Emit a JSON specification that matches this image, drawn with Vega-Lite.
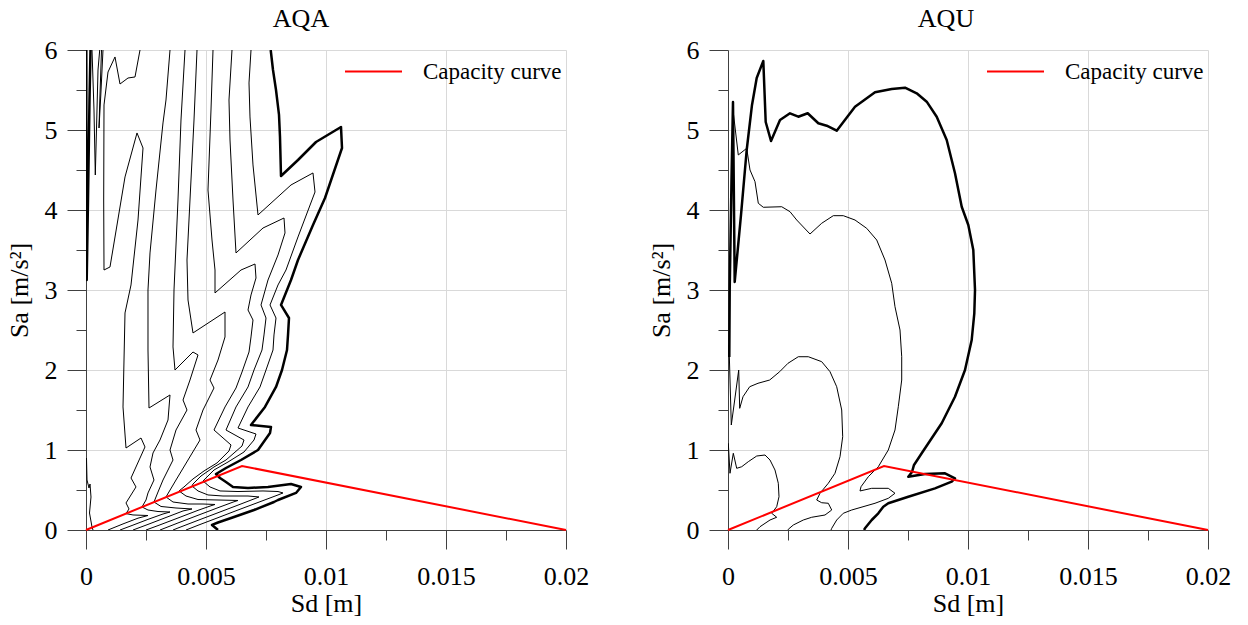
{
"$schema": "https://vega.github.io/schema/vega-lite/v6.json",
"background": "white",
"padding": {"left": 6, "top": 6, "right": 5, "bottom": 5},
"config": {
  "font": "Liberation Serif",
  "view": {"stroke": null},
  "axis": {"labelFont": "Liberation Serif", "titleFont": "Liberation Serif", "labelFontSize": 26, "titleFontSize": 26, "labelColor": "#000", "titleColor": "#000", "titleFontWeight": "normal", "domainColor": "#404040", "tickColor": "#404040", "gridColor": "#d9d9d9", "gridWidth": 1, "labelFlush": false, "labelOverlap": false},
  "title": {"font": "Liberation Serif", "fontSize": 26, "fontWeight": "normal", "color": "#000"},
  "legend": {"labelFont": "Liberation Serif", "labelFontSize": 23, "labelColor": "#000"}
},
"datasets": {
"capacity": [
{"i":1,"sd":0,"sa":0,"series":"Capacity curve"},
{"i":2,"sd":0.0065,"sa":0.8,"series":"Capacity curve"},
{"i":3,"sd":0.02,"sa":0,"series":"Capacity curve"}
],
"contours": [
{"panel":"AQA","line":"C1","contour":"outer","i":1,"sd":0.007696,"sa":6},
{"panel":"AQA","line":"C1","contour":"outer","i":2,"sd":0.007792,"sa":5.75},
{"panel":"AQA","line":"C1","contour":"outer","i":3,"sd":0.007917,"sa":5.5},
{"panel":"AQA","line":"C1","contour":"outer","i":4,"sd":0.008042,"sa":5.188},
{"panel":"AQA","line":"C1","contour":"outer","i":5,"sd":0.008083,"sa":4.913},
{"panel":"AQA","line":"C1","contour":"outer","i":6,"sd":0.008125,"sa":4.425},
{"panel":"AQA","line":"C1","contour":"outer","i":7,"sd":0.008833,"sa":4.625},
{"panel":"AQA","line":"C1","contour":"outer","i":8,"sd":0.009583,"sa":4.85},
{"panel":"AQA","line":"C1","contour":"outer","i":9,"sd":0.010625,"sa":5.038},
{"panel":"AQA","line":"C1","contour":"outer","i":10,"sd":0.010667,"sa":4.775},
{"panel":"AQA","line":"C1","contour":"outer","i":11,"sd":0.009958,"sa":4.15},
{"panel":"AQA","line":"C1","contour":"outer","i":12,"sd":0.009458,"sa":3.813},
{"panel":"AQA","line":"C1","contour":"outer","i":13,"sd":0.008833,"sa":3.375},
{"panel":"AQA","line":"C1","contour":"outer","i":14,"sd":0.008542,"sa":3.125},
{"panel":"AQA","line":"C1","contour":"outer","i":15,"sd":0.008125,"sa":2.813},
{"panel":"AQA","line":"C1","contour":"outer","i":16,"sd":0.008458,"sa":2.65},
{"panel":"AQA","line":"C1","contour":"outer","i":17,"sd":0.008417,"sa":2.438},
{"panel":"AQA","line":"C1","contour":"outer","i":18,"sd":0.008375,"sa":2.25},
{"panel":"AQA","line":"C1","contour":"outer","i":19,"sd":0.008167,"sa":2.0},
{"panel":"AQA","line":"C1","contour":"outer","i":20,"sd":0.007917,"sa":1.788},
{"panel":"AQA","line":"C1","contour":"outer","i":21,"sd":0.007458,"sa":1.538},
{"panel":"AQA","line":"C1","contour":"outer","i":22,"sd":0.006875,"sa":1.313},
{"panel":"AQA","line":"C1","contour":"outer","i":23,"sd":0.007708,"sa":1.288},
{"panel":"AQA","line":"C1","contour":"outer","i":24,"sd":0.007667,"sa":1.213},
{"panel":"AQA","line":"C1","contour":"outer","i":25,"sd":0.007167,"sa":1.0},
{"panel":"AQA","line":"C1","contour":"outer","i":26,"sd":0.006458,"sa":0.875},
{"panel":"AQA","line":"C1","contour":"outer","i":27,"sd":0.005833,"sa":0.775},
{"panel":"AQA","line":"C1","contour":"outer","i":28,"sd":0.005417,"sa":0.7},
{"panel":"AQA","line":"C1","contour":"outer","i":29,"sd":0.005583,"sa":0.65},
{"panel":"AQA","line":"C1","contour":"outer","i":30,"sd":0.005833,"sa":0.6},
{"panel":"AQA","line":"C1","contour":"outer","i":31,"sd":0.006125,"sa":0.538},
{"panel":"AQA","line":"C1","contour":"outer","i":32,"sd":0.00675,"sa":0.525},
{"panel":"AQA","line":"C1","contour":"outer","i":33,"sd":0.007583,"sa":0.538},
{"panel":"AQA","line":"C1","contour":"outer","i":34,"sd":0.008542,"sa":0.575},
{"panel":"AQA","line":"C1","contour":"outer","i":35,"sd":0.008958,"sa":0.538},
{"panel":"AQA","line":"C1","contour":"outer","i":36,"sd":0.00875,"sa":0.463},
{"panel":"AQA","line":"C1","contour":"outer","i":37,"sd":0.008,"sa":0.375},
{"panel":"AQA","line":"C1","contour":"outer","i":38,"sd":0.007833,"sa":0.35},
{"panel":"AQA","line":"C1","contour":"outer","i":39,"sd":0.007,"sa":0.25},
{"panel":"AQA","line":"C1","contour":"outer","i":40,"sd":0.006167,"sa":0.163},
{"panel":"AQA","line":"C1","contour":"outer","i":41,"sd":0.0055,"sa":0.094},
{"panel":"AQA","line":"C1","contour":"outer","i":42,"sd":0.00525,"sa":0.063},
{"panel":"AQA","line":"C1","contour":"outer","i":43,"sd":0.0055,"sa":0},
{"panel":"AQA","line":"K0","contour":"outer","i":1,"sd":0.0000125,"sa":6},
{"panel":"AQA","line":"K0","contour":"outer","i":2,"sd":0.0000167,"sa":4.75},
{"panel":"AQA","line":"K0","contour":"outer","i":3,"sd":0.000029,"sa":3.125},
{"panel":"AQA","line":"K0","contour":"outer","i":4,"sd":0.000083,"sa":4.125},
{"panel":"AQA","line":"K0","contour":"outer","i":5,"sd":0.000146,"sa":5.375},
{"panel":"AQA","line":"K0","contour":"outer","i":6,"sd":0.0001875,"sa":6},
{"panel":"AQA","line":"S2","contour":"inner","i":1,"sd":0.00025,"sa":6},
{"panel":"AQA","line":"S2","contour":"inner","i":2,"sd":0.000333,"sa":5.25},
{"panel":"AQA","line":"S2","contour":"inner","i":3,"sd":0.0003875,"sa":4.4375},
{"panel":"AQA","line":"S2","contour":"inner","i":4,"sd":0.000458,"sa":5.25},
{"panel":"AQA","line":"S2","contour":"inner","i":5,"sd":0.0005,"sa":5.75},
{"panel":"AQA","line":"S2","contour":"inner","i":6,"sd":0.000571,"sa":6},
{"panel":"AQA","line":"S3","contour":"inner","i":1,"sd":0.000646,"sa":6},
{"panel":"AQA","line":"S3","contour":"inner","i":2,"sd":0.000575,"sa":5.375},
{"panel":"AQA","line":"S3","contour":"inner","i":3,"sd":0.000542,"sa":5.025},
{"panel":"AQA","line":"S3","contour":"inner","i":4,"sd":0.000617,"sa":5.4375},
{"panel":"AQA","line":"S3","contour":"inner","i":5,"sd":0.000708,"sa":6},
{"panel":"AQA","line":"W","contour":"inner","i":1,"sd":0.0000208,"sa":0.9},
{"panel":"AQA","line":"W","contour":"inner","i":2,"sd":0.000042,"sa":0.625},
{"panel":"AQA","line":"W","contour":"inner","i":3,"sd":0.000125,"sa":0.525},
{"panel":"AQA","line":"W","contour":"inner","i":4,"sd":0.000167,"sa":0.575},
{"panel":"AQA","line":"W","contour":"inner","i":5,"sd":0.000208,"sa":0.4125},
{"panel":"AQA","line":"W","contour":"inner","i":6,"sd":0.000146,"sa":0.2125},
{"panel":"AQA","line":"W","contour":"inner","i":7,"sd":0.00025,"sa":0.0375},
{"panel":"AQA","line":"W","contour":"inner","i":8,"sd":0.000292,"sa":0},
{"panel":"AQA","line":"C2","contour":"inner","i":1,"sd":0.006875,"sa":6},
{"panel":"AQA","line":"C2","contour":"inner","i":2,"sd":0.006792,"sa":5.588},
{"panel":"AQA","line":"C2","contour":"inner","i":3,"sd":0.006833,"sa":5.163},
{"panel":"AQA","line":"C2","contour":"inner","i":4,"sd":0.006958,"sa":4.563},
{"panel":"AQA","line":"C2","contour":"inner","i":5,"sd":0.007167,"sa":3.938},
{"panel":"AQA","line":"C2","contour":"inner","i":6,"sd":0.008542,"sa":4.313},
{"panel":"AQA","line":"C2","contour":"inner","i":7,"sd":0.009458,"sa":4.463},
{"panel":"AQA","line":"C2","contour":"inner","i":8,"sd":0.009542,"sa":4.225},
{"panel":"AQA","line":"C2","contour":"inner","i":9,"sd":0.008833,"sa":3.663},
{"panel":"AQA","line":"C2","contour":"inner","i":10,"sd":0.008333,"sa":3.25},
{"panel":"AQA","line":"C2","contour":"inner","i":11,"sd":0.008,"sa":3.063},
{"panel":"AQA","line":"C2","contour":"inner","i":12,"sd":0.007667,"sa":2.813},
{"panel":"AQA","line":"C2","contour":"inner","i":13,"sd":0.007917,"sa":2.65},
{"panel":"AQA","line":"C2","contour":"inner","i":14,"sd":0.007833,"sa":2.438},
{"panel":"AQA","line":"C2","contour":"inner","i":15,"sd":0.007792,"sa":2.25},
{"panel":"AQA","line":"C2","contour":"inner","i":16,"sd":0.0075,"sa":2.0},
{"panel":"AQA","line":"C2","contour":"inner","i":17,"sd":0.00725,"sa":1.788},
{"panel":"AQA","line":"C2","contour":"inner","i":18,"sd":0.00675,"sa":1.538},
{"panel":"AQA","line":"C2","contour":"inner","i":19,"sd":0.006333,"sa":1.275},
{"panel":"AQA","line":"C2","contour":"inner","i":20,"sd":0.007083,"sa":1.2},
{"panel":"AQA","line":"C2","contour":"inner","i":21,"sd":0.007,"sa":1.125},
{"panel":"AQA","line":"C2","contour":"inner","i":22,"sd":0.006583,"sa":0.975},
{"panel":"AQA","line":"C2","contour":"inner","i":23,"sd":0.005917,"sa":0.85},
{"panel":"AQA","line":"C2","contour":"inner","i":24,"sd":0.005333,"sa":0.75},
{"panel":"AQA","line":"C2","contour":"inner","i":25,"sd":0.004875,"sa":0.613},
{"panel":"AQA","line":"C2","contour":"inner","i":26,"sd":0.005167,"sa":0.538},
{"panel":"AQA","line":"C2","contour":"inner","i":27,"sd":0.005583,"sa":0.488},
{"panel":"AQA","line":"C2","contour":"inner","i":28,"sd":0.006333,"sa":0.481},
{"panel":"AQA","line":"C2","contour":"inner","i":29,"sd":0.007375,"sa":0.488},
{"panel":"AQA","line":"C2","contour":"inner","i":30,"sd":0.008,"sa":0.481},
{"panel":"AQA","line":"C2","contour":"inner","i":31,"sd":0.008208,"sa":0.463},
{"panel":"AQA","line":"C2","contour":"inner","i":32,"sd":0.008,"sa":0.438},
{"panel":"AQA","line":"C2","contour":"inner","i":33,"sd":0.007167,"sa":0.344},
{"panel":"AQA","line":"C2","contour":"inner","i":34,"sd":0.006333,"sa":0.25},
{"panel":"AQA","line":"C2","contour":"inner","i":35,"sd":0.0055,"sa":0.154},
{"panel":"AQA","line":"C2","contour":"inner","i":36,"sd":0.004667,"sa":0.059},
{"panel":"AQA","line":"C2","contour":"inner","i":37,"sd":0.004167,"sa":0},
{"panel":"AQA","line":"C3","contour":"inner","i":1,"sd":0.006083,"sa":6},
{"panel":"AQA","line":"C3","contour":"inner","i":2,"sd":0.005958,"sa":5.375},
{"panel":"AQA","line":"C3","contour":"inner","i":3,"sd":0.006,"sa":4.875},
{"panel":"AQA","line":"C3","contour":"inner","i":4,"sd":0.006125,"sa":4.125},
{"panel":"AQA","line":"C3","contour":"inner","i":5,"sd":0.00625,"sa":3.463},
{"panel":"AQA","line":"C3","contour":"inner","i":6,"sd":0.007375,"sa":3.775},
{"panel":"AQA","line":"C3","contour":"inner","i":7,"sd":0.00825,"sa":3.9},
{"panel":"AQA","line":"C3","contour":"inner","i":8,"sd":0.008292,"sa":3.713},
{"panel":"AQA","line":"C3","contour":"inner","i":9,"sd":0.008,"sa":3.438},
{"panel":"AQA","line":"C3","contour":"inner","i":10,"sd":0.007583,"sa":3.125},
{"panel":"AQA","line":"C3","contour":"inner","i":11,"sd":0.007292,"sa":2.813},
{"panel":"AQA","line":"C3","contour":"inner","i":12,"sd":0.0075,"sa":2.65},
{"panel":"AQA","line":"C3","contour":"inner","i":13,"sd":0.007417,"sa":2.438},
{"panel":"AQA","line":"C3","contour":"inner","i":14,"sd":0.007333,"sa":2.25},
{"panel":"AQA","line":"C3","contour":"inner","i":15,"sd":0.007,"sa":2.0},
{"panel":"AQA","line":"C3","contour":"inner","i":16,"sd":0.00675,"sa":1.788},
{"panel":"AQA","line":"C3","contour":"inner","i":17,"sd":0.00625,"sa":1.538},
{"panel":"AQA","line":"C3","contour":"inner","i":18,"sd":0.005833,"sa":1.25},
{"panel":"AQA","line":"C3","contour":"inner","i":19,"sd":0.006583,"sa":1.125},
{"panel":"AQA","line":"C3","contour":"inner","i":20,"sd":0.0065,"sa":1.05},
{"panel":"AQA","line":"C3","contour":"inner","i":21,"sd":0.005833,"sa":0.875},
{"panel":"AQA","line":"C3","contour":"inner","i":22,"sd":0.005333,"sa":0.788},
{"panel":"AQA","line":"C3","contour":"inner","i":23,"sd":0.004792,"sa":0.675},
{"panel":"AQA","line":"C3","contour":"inner","i":24,"sd":0.004458,"sa":0.575},
{"panel":"AQA","line":"C3","contour":"inner","i":25,"sd":0.004417,"sa":0.55},
{"panel":"AQA","line":"C3","contour":"inner","i":26,"sd":0.004667,"sa":0.488},
{"panel":"AQA","line":"C3","contour":"inner","i":27,"sd":0.005083,"sa":0.438},
{"panel":"AQA","line":"C3","contour":"inner","i":28,"sd":0.005708,"sa":0.425},
{"panel":"AQA","line":"C3","contour":"inner","i":29,"sd":0.00675,"sa":0.425},
{"panel":"AQA","line":"C3","contour":"inner","i":30,"sd":0.007208,"sa":0.413},
{"panel":"AQA","line":"C3","contour":"inner","i":31,"sd":0.007083,"sa":0.398},
{"panel":"AQA","line":"C3","contour":"inner","i":32,"sd":0.006333,"sa":0.311},
{"panel":"AQA","line":"C3","contour":"inner","i":33,"sd":0.0055,"sa":0.216},
{"panel":"AQA","line":"C3","contour":"inner","i":34,"sd":0.004667,"sa":0.121},
{"panel":"AQA","line":"C3","contour":"inner","i":35,"sd":0.003833,"sa":0.025},
{"panel":"AQA","line":"C3","contour":"inner","i":36,"sd":0.003625,"sa":0},
{"panel":"AQA","line":"C4","contour":"inner","i":1,"sd":0.005292,"sa":6},
{"panel":"AQA","line":"C4","contour":"inner","i":2,"sd":0.005208,"sa":5.25},
{"panel":"AQA","line":"C4","contour":"inner","i":3,"sd":0.005083,"sa":4.25},
{"panel":"AQA","line":"C4","contour":"inner","i":4,"sd":0.00525,"sa":3.625},
{"panel":"AQA","line":"C4","contour":"inner","i":5,"sd":0.005375,"sa":3.25},
{"panel":"AQA","line":"C4","contour":"inner","i":6,"sd":0.005375,"sa":2.963},
{"panel":"AQA","line":"C4","contour":"inner","i":7,"sd":0.006458,"sa":3.25},
{"panel":"AQA","line":"C4","contour":"inner","i":8,"sd":0.007042,"sa":3.325},
{"panel":"AQA","line":"C4","contour":"inner","i":9,"sd":0.007083,"sa":3.15},
{"panel":"AQA","line":"C4","contour":"inner","i":10,"sd":0.006875,"sa":2.938},
{"panel":"AQA","line":"C4","contour":"inner","i":11,"sd":0.00675,"sa":2.75},
{"panel":"AQA","line":"C4","contour":"inner","i":12,"sd":0.006958,"sa":2.625},
{"panel":"AQA","line":"C4","contour":"inner","i":13,"sd":0.006875,"sa":2.413},
{"panel":"AQA","line":"C4","contour":"inner","i":14,"sd":0.006792,"sa":2.225},
{"panel":"AQA","line":"C4","contour":"inner","i":15,"sd":0.0065,"sa":1.975},
{"panel":"AQA","line":"C4","contour":"inner","i":16,"sd":0.00625,"sa":1.775},
{"panel":"AQA","line":"C4","contour":"inner","i":17,"sd":0.005792,"sa":1.538},
{"panel":"AQA","line":"C4","contour":"inner","i":18,"sd":0.005333,"sa":1.25},
{"panel":"AQA","line":"C4","contour":"inner","i":19,"sd":0.006042,"sa":1.063},
{"panel":"AQA","line":"C4","contour":"inner","i":20,"sd":0.005958,"sa":0.988},
{"panel":"AQA","line":"C4","contour":"inner","i":21,"sd":0.005458,"sa":0.838},
{"panel":"AQA","line":"C4","contour":"inner","i":22,"sd":0.004917,"sa":0.738},
{"panel":"AQA","line":"C4","contour":"inner","i":23,"sd":0.004458,"sa":0.638},
{"panel":"AQA","line":"C4","contour":"inner","i":24,"sd":0.004083,"sa":0.538},
{"panel":"AQA","line":"C4","contour":"inner","i":25,"sd":0.003875,"sa":0.488},
{"panel":"AQA","line":"C4","contour":"inner","i":26,"sd":0.004167,"sa":0.425},
{"panel":"AQA","line":"C4","contour":"inner","i":27,"sd":0.004667,"sa":0.381},
{"panel":"AQA","line":"C4","contour":"inner","i":28,"sd":0.0055,"sa":0.375},
{"panel":"AQA","line":"C4","contour":"inner","i":29,"sd":0.006333,"sa":0.369},
{"panel":"AQA","line":"C4","contour":"inner","i":30,"sd":0.006167,"sa":0.353},
{"panel":"AQA","line":"C4","contour":"inner","i":31,"sd":0.0055,"sa":0.279},
{"panel":"AQA","line":"C4","contour":"inner","i":32,"sd":0.004667,"sa":0.184},
{"panel":"AQA","line":"C4","contour":"inner","i":33,"sd":0.003833,"sa":0.088},
{"panel":"AQA","line":"C4","contour":"inner","i":34,"sd":0.003083,"sa":0},
{"panel":"AQA","line":"C5","contour":"inner","i":1,"sd":0.004625,"sa":6},
{"panel":"AQA","line":"C5","contour":"inner","i":2,"sd":0.0045,"sa":5.125},
{"panel":"AQA","line":"C5","contour":"inner","i":3,"sd":0.004333,"sa":4.125},
{"panel":"AQA","line":"C5","contour":"inner","i":4,"sd":0.004208,"sa":3.375},
{"panel":"AQA","line":"C5","contour":"inner","i":5,"sd":0.00425,"sa":2.875},
{"panel":"AQA","line":"C5","contour":"inner","i":6,"sd":0.004458,"sa":2.463},
{"panel":"AQA","line":"C5","contour":"inner","i":7,"sd":0.005792,"sa":2.725},
{"panel":"AQA","line":"C5","contour":"inner","i":8,"sd":0.005792,"sa":2.413},
{"panel":"AQA","line":"C5","contour":"inner","i":9,"sd":0.0055,"sa":2.125},
{"panel":"AQA","line":"C5","contour":"inner","i":10,"sd":0.005167,"sa":1.875},
{"panel":"AQA","line":"C5","contour":"inner","i":11,"sd":0.005333,"sa":1.775},
{"panel":"AQA","line":"C5","contour":"inner","i":12,"sd":0.004875,"sa":1.5},
{"panel":"AQA","line":"C5","contour":"inner","i":13,"sd":0.004583,"sa":1.25},
{"panel":"AQA","line":"C5","contour":"inner","i":14,"sd":0.00475,"sa":1.125},
{"panel":"AQA","line":"C5","contour":"inner","i":15,"sd":0.00425,"sa":0.875},
{"panel":"AQA","line":"C5","contour":"inner","i":16,"sd":0.00375,"sa":0.625},
{"panel":"AQA","line":"C5","contour":"inner","i":17,"sd":0.003333,"sa":0.413},
{"panel":"AQA","line":"C5","contour":"inner","i":18,"sd":0.003625,"sa":0.35},
{"panel":"AQA","line":"C5","contour":"inner","i":19,"sd":0.00425,"sa":0.325},
{"panel":"AQA","line":"C5","contour":"inner","i":20,"sd":0.004875,"sa":0.325},
{"panel":"AQA","line":"C5","contour":"inner","i":21,"sd":0.005375,"sa":0.319},
{"panel":"AQA","line":"C5","contour":"inner","i":22,"sd":0.005208,"sa":0.303},
{"panel":"AQA","line":"C5","contour":"inner","i":23,"sd":0.004667,"sa":0.246},
{"panel":"AQA","line":"C5","contour":"inner","i":24,"sd":0.003833,"sa":0.15},
{"panel":"AQA","line":"C5","contour":"inner","i":25,"sd":0.003,"sa":0.055},
{"panel":"AQA","line":"C5","contour":"inner","i":26,"sd":0.0025,"sa":0},
{"panel":"AQA","line":"C6","contour":"inner","i":1,"sd":0.004125,"sa":6},
{"panel":"AQA","line":"C6","contour":"inner","i":2,"sd":0.003958,"sa":5.125},
{"panel":"AQA","line":"C6","contour":"inner","i":3,"sd":0.003833,"sa":4.125},
{"panel":"AQA","line":"C6","contour":"inner","i":4,"sd":0.003667,"sa":3.0},
{"panel":"AQA","line":"C6","contour":"inner","i":5,"sd":0.003625,"sa":2.288},
{"panel":"AQA","line":"C6","contour":"inner","i":6,"sd":0.003708,"sa":2.0},
{"panel":"AQA","line":"C6","contour":"inner","i":7,"sd":0.004458,"sa":2.225},
{"panel":"AQA","line":"C6","contour":"inner","i":8,"sd":0.004667,"sa":2.188},
{"panel":"AQA","line":"C6","contour":"inner","i":9,"sd":0.004333,"sa":1.875},
{"panel":"AQA","line":"C6","contour":"inner","i":10,"sd":0.004042,"sa":1.625},
{"panel":"AQA","line":"C6","contour":"inner","i":11,"sd":0.004208,"sa":1.5},
{"panel":"AQA","line":"C6","contour":"inner","i":12,"sd":0.00375,"sa":1.25},
{"panel":"AQA","line":"C6","contour":"inner","i":13,"sd":0.0035,"sa":1.0},
{"panel":"AQA","line":"C6","contour":"inner","i":14,"sd":0.003625,"sa":0.875},
{"panel":"AQA","line":"C6","contour":"inner","i":15,"sd":0.003208,"sa":0.625},
{"panel":"AQA","line":"C6","contour":"inner","i":16,"sd":0.003,"sa":0.475},
{"panel":"AQA","line":"C6","contour":"inner","i":17,"sd":0.002833,"sa":0.35},
{"panel":"AQA","line":"C6","contour":"inner","i":18,"sd":0.003125,"sa":0.294},
{"panel":"AQA","line":"C6","contour":"inner","i":19,"sd":0.00375,"sa":0.275},
{"panel":"AQA","line":"C6","contour":"inner","i":20,"sd":0.004417,"sa":0.263},
{"panel":"AQA","line":"C6","contour":"inner","i":21,"sd":0.004042,"sa":0.238},
{"panel":"AQA","line":"C6","contour":"inner","i":22,"sd":0.003417,"sa":0.166},
{"panel":"AQA","line":"C6","contour":"inner","i":23,"sd":0.002583,"sa":0.07},
{"panel":"AQA","line":"C6","contour":"inner","i":24,"sd":0.001958,"sa":0},
{"panel":"AQA","line":"C7","contour":"inner","i":1,"sd":0.0035,"sa":6},
{"panel":"AQA","line":"C7","contour":"inner","i":2,"sd":0.003333,"sa":5.375},
{"panel":"AQA","line":"C7","contour":"inner","i":3,"sd":0.003208,"sa":5.088},
{"panel":"AQA","line":"C7","contour":"inner","i":4,"sd":0.002917,"sa":4.25},
{"panel":"AQA","line":"C7","contour":"inner","i":5,"sd":0.002667,"sa":3.463},
{"panel":"AQA","line":"C7","contour":"inner","i":6,"sd":0.002583,"sa":3.0},
{"panel":"AQA","line":"C7","contour":"inner","i":7,"sd":0.002583,"sa":2.25},
{"panel":"AQA","line":"C7","contour":"inner","i":8,"sd":0.002625,"sa":1.525},
{"panel":"AQA","line":"C7","contour":"inner","i":9,"sd":0.0035,"sa":1.688},
{"panel":"AQA","line":"C7","contour":"inner","i":10,"sd":0.003417,"sa":1.375},
{"panel":"AQA","line":"C7","contour":"inner","i":11,"sd":0.003083,"sa":1.125},
{"panel":"AQA","line":"C7","contour":"inner","i":12,"sd":0.002792,"sa":0.963},
{"panel":"AQA","line":"C7","contour":"inner","i":13,"sd":0.002667,"sa":0.788},
{"panel":"AQA","line":"C7","contour":"inner","i":14,"sd":0.002833,"sa":0.625},
{"panel":"AQA","line":"C7","contour":"inner","i":15,"sd":0.002583,"sa":0.463},
{"panel":"AQA","line":"C7","contour":"inner","i":16,"sd":0.0025,"sa":0.375},
{"panel":"AQA","line":"C7","contour":"inner","i":17,"sd":0.002333,"sa":0.288},
{"panel":"AQA","line":"C7","contour":"inner","i":18,"sd":0.002583,"sa":0.25},
{"panel":"AQA","line":"C7","contour":"inner","i":19,"sd":0.003,"sa":0.231},
{"panel":"AQA","line":"C7","contour":"inner","i":20,"sd":0.0035,"sa":0.225},
{"panel":"AQA","line":"C7","contour":"inner","i":21,"sd":0.003208,"sa":0.2},
{"panel":"AQA","line":"C7","contour":"inner","i":22,"sd":0.002583,"sa":0.133},
{"panel":"AQA","line":"C7","contour":"inner","i":23,"sd":0.001958,"sa":0.061},
{"panel":"AQA","line":"C7","contour":"inner","i":24,"sd":0.001417,"sa":0},
{"panel":"AQA","line":"T","contour":"inner","i":1,"sd":0.00225,"sa":6},
{"panel":"AQA","line":"T","contour":"inner","i":2,"sd":0.002042,"sa":5.663},
{"panel":"AQA","line":"T","contour":"inner","i":3,"sd":0.00175,"sa":5.65},
{"panel":"AQA","line":"T","contour":"inner","i":4,"sd":0.001417,"sa":5.575},
{"panel":"AQA","line":"T","contour":"inner","i":5,"sd":0.001208,"sa":5.913},
{"panel":"AQA","line":"T","contour":"inner","i":6,"sd":0.000917,"sa":5.725},
{"panel":"AQA","line":"T","contour":"inner","i":7,"sd":0.00075,"sa":5.313},
{"panel":"AQA","line":"T","contour":"inner","i":8,"sd":0.0007375,"sa":4.125},
{"panel":"AQA","line":"T","contour":"inner","i":9,"sd":0.00075,"sa":3.25},
{"panel":"AQA","line":"T","contour":"inner","i":10,"sd":0.001,"sa":3.288},
{"panel":"AQA","line":"T","contour":"inner","i":11,"sd":0.001625,"sa":4.413},
{"panel":"AQA","line":"T","contour":"inner","i":12,"sd":0.002125,"sa":4.963},
{"panel":"AQA","line":"T","contour":"inner","i":13,"sd":0.002375,"sa":4.775},
{"panel":"AQA","line":"T","contour":"inner","i":14,"sd":0.002167,"sa":3.875},
{"panel":"AQA","line":"T","contour":"inner","i":15,"sd":0.001875,"sa":3.063},
{"panel":"AQA","line":"T","contour":"inner","i":16,"sd":0.001625,"sa":2.713},
{"panel":"AQA","line":"T","contour":"inner","i":17,"sd":0.001542,"sa":1.538},
{"panel":"AQA","line":"T","contour":"inner","i":18,"sd":0.001667,"sa":1.025},
{"panel":"AQA","line":"T","contour":"inner","i":19,"sd":0.002292,"sa":1.15},
{"panel":"AQA","line":"T","contour":"inner","i":20,"sd":0.002458,"sa":1.038},
{"panel":"AQA","line":"T","contour":"inner","i":21,"sd":0.001875,"sa":0.65},
{"panel":"AQA","line":"T","contour":"inner","i":22,"sd":0.002083,"sa":0.538},
{"panel":"AQA","line":"T","contour":"inner","i":23,"sd":0.001667,"sa":0.338},
{"panel":"AQA","line":"T","contour":"inner","i":24,"sd":0.001792,"sa":0.263},
{"panel":"AQA","line":"T","contour":"inner","i":25,"sd":0.001667,"sa":0.205},
{"panel":"AQA","line":"T","contour":"inner","i":26,"sd":0.001958,"sa":0.188},
{"panel":"AQA","line":"T","contour":"inner","i":27,"sd":0.002583,"sa":0.181},
{"panel":"AQA","line":"T","contour":"inner","i":28,"sd":0.002167,"sa":0.148},
{"panel":"AQA","line":"T","contour":"inner","i":29,"sd":0.001542,"sa":0.076},
{"panel":"AQA","line":"T","contour":"inner","i":30,"sd":0.000917,"sa":0},
{"panel":"AQU","line":"U1","contour":"outer","i":1,"sd":0.000054,"sa":2.163},
{"panel":"AQU","line":"U1","contour":"outer","i":2,"sd":0.000071,"sa":3.0},
{"panel":"AQU","line":"U1","contour":"outer","i":3,"sd":0.000146,"sa":4.375},
{"panel":"AQU","line":"U1","contour":"outer","i":4,"sd":0.000208,"sa":5.35},
{"panel":"AQU","line":"U1","contour":"outer","i":5,"sd":0.000279,"sa":3.1},
{"panel":"AQU","line":"U1","contour":"outer","i":6,"sd":0.000542,"sa":3.938},
{"panel":"AQU","line":"U1","contour":"outer","i":7,"sd":0.000779,"sa":4.75},
{"panel":"AQU","line":"U1","contour":"outer","i":8,"sd":0.001,"sa":5.313},
{"panel":"AQU","line":"U1","contour":"outer","i":9,"sd":0.001196,"sa":5.65},
{"panel":"AQU","line":"U1","contour":"outer","i":10,"sd":0.001471,"sa":5.863},
{"panel":"AQU","line":"U1","contour":"outer","i":11,"sd":0.001571,"sa":5.1},
{"panel":"AQU","line":"U1","contour":"outer","i":12,"sd":0.001792,"sa":4.863},
{"panel":"AQU","line":"U1","contour":"outer","i":13,"sd":0.002167,"sa":5.125},
{"panel":"AQU","line":"U1","contour":"outer","i":14,"sd":0.002583,"sa":5.209},
{"panel":"AQU","line":"U1","contour":"outer","i":15,"sd":0.002929,"sa":5.166},
{"panel":"AQU","line":"U1","contour":"outer","i":16,"sd":0.003321,"sa":5.209},
{"panel":"AQU","line":"U1","contour":"outer","i":17,"sd":0.003763,"sa":5.084},
{"panel":"AQU","line":"U1","contour":"outer","i":18,"sd":0.004113,"sa":5.054},
{"panel":"AQU","line":"U1","contour":"outer","i":19,"sd":0.004529,"sa":4.991},
{"panel":"AQU","line":"U1","contour":"outer","i":20,"sd":0.005292,"sa":5.291},
{"panel":"AQU","line":"U1","contour":"outer","i":21,"sd":0.006125,"sa":5.471},
{"panel":"AQU","line":"U1","contour":"outer","i":22,"sd":0.006821,"sa":5.513},
{"panel":"AQU","line":"U1","contour":"outer","i":23,"sd":0.007375,"sa":5.529},
{"panel":"AQU","line":"U1","contour":"outer","i":24,"sd":0.007863,"sa":5.459},
{"panel":"AQU","line":"U1","contour":"outer","i":25,"sd":0.008279,"sa":5.354},
{"panel":"AQU","line":"U1","contour":"outer","i":26,"sd":0.008696,"sa":5.166},
{"panel":"AQU","line":"U1","contour":"outer","i":27,"sd":0.009113,"sa":4.875},
{"panel":"AQU","line":"U1","contour":"outer","i":28,"sd":0.009458,"sa":4.459},
{"panel":"AQU","line":"U1","contour":"outer","i":29,"sd":0.009738,"sa":4.041},
{"panel":"AQU","line":"U1","contour":"outer","i":30,"sd":0.010013,"sa":3.813},
{"panel":"AQU","line":"U1","contour":"outer","i":31,"sd":0.010221,"sa":3.5},
{"panel":"AQU","line":"U1","contour":"outer","i":32,"sd":0.010292,"sa":3.0},
{"panel":"AQU","line":"U1","contour":"outer","i":33,"sd":0.010263,"sa":2.709},
{"panel":"AQU","line":"U1","contour":"outer","i":34,"sd":0.010154,"sa":2.375},
{"panel":"AQU","line":"U1","contour":"outer","i":35,"sd":0.009875,"sa":2.0},
{"panel":"AQU","line":"U1","contour":"outer","i":36,"sd":0.009458,"sa":1.666},
{"panel":"AQU","line":"U1","contour":"outer","i":37,"sd":0.008904,"sa":1.334},
{"panel":"AQU","line":"U1","contour":"outer","i":38,"sd":0.008071,"sa":0.959},
{"panel":"AQU","line":"U1","contour":"outer","i":39,"sd":0.00775,"sa":0.813},
{"panel":"AQU","line":"U1","contour":"outer","i":40,"sd":0.007667,"sa":0.725},
{"panel":"AQU","line":"U1","contour":"outer","i":41,"sd":0.007513,"sa":0.666},
{"panel":"AQU","line":"U1","contour":"outer","i":42,"sd":0.008208,"sa":0.7},
{"panel":"AQU","line":"U1","contour":"outer","i":43,"sd":0.009042,"sa":0.709},
{"panel":"AQU","line":"U1","contour":"outer","i":44,"sd":0.009458,"sa":0.646},
{"panel":"AQU","line":"U1","contour":"outer","i":45,"sd":0.009321,"sa":0.604},
{"panel":"AQU","line":"U1","contour":"outer","i":46,"sd":0.008625,"sa":0.521},
{"panel":"AQU","line":"U1","contour":"outer","i":47,"sd":0.007513,"sa":0.416},
{"panel":"AQU","line":"U1","contour":"outer","i":48,"sd":0.006679,"sa":0.334},
{"panel":"AQU","line":"U1","contour":"outer","i":49,"sd":0.006471,"sa":0.291},
{"panel":"AQU","line":"U1","contour":"outer","i":50,"sd":0.006263,"sa":0.209},
{"panel":"AQU","line":"U1","contour":"outer","i":51,"sd":0.005988,"sa":0.125},
{"panel":"AQU","line":"U1","contour":"outer","i":52,"sd":0.005708,"sa":0.021},
{"panel":"AQU","line":"U1","contour":"outer","i":53,"sd":0.005667,"sa":0},
{"panel":"AQU","line":"U2","contour":"inner","i":1,"sd":0.000233,"sa":5.188},
{"panel":"AQU","line":"U2","contour":"inner","i":2,"sd":0.000429,"sa":4.688},
{"panel":"AQU","line":"U2","contour":"inner","i":3,"sd":0.000779,"sa":4.771},
{"panel":"AQU","line":"U2","contour":"inner","i":4,"sd":0.000917,"sa":4.5},
{"panel":"AQU","line":"U2","contour":"inner","i":5,"sd":0.001125,"sa":4.354},
{"panel":"AQU","line":"U2","contour":"inner","i":6,"sd":0.001263,"sa":4.084},
{"panel":"AQU","line":"U2","contour":"inner","i":7,"sd":0.001471,"sa":4.034},
{"panel":"AQU","line":"U2","contour":"inner","i":8,"sd":0.002238,"sa":4.041},
{"panel":"AQU","line":"U2","contour":"inner","i":9,"sd":0.002583,"sa":3.979},
{"panel":"AQU","line":"U2","contour":"inner","i":10,"sd":0.002863,"sa":3.875},
{"panel":"AQU","line":"U2","contour":"inner","i":11,"sd":0.003417,"sa":3.7},
{"panel":"AQU","line":"U2","contour":"inner","i":12,"sd":0.003904,"sa":3.834},
{"panel":"AQU","line":"U2","contour":"inner","i":13,"sd":0.004388,"sa":3.929},
{"panel":"AQU","line":"U2","contour":"inner","i":14,"sd":0.004804,"sa":3.929},
{"panel":"AQU","line":"U2","contour":"inner","i":15,"sd":0.005292,"sa":3.875},
{"panel":"AQU","line":"U2","contour":"inner","i":16,"sd":0.005779,"sa":3.771},
{"panel":"AQU","line":"U2","contour":"inner","i":17,"sd":0.006196,"sa":3.625},
{"panel":"AQU","line":"U2","contour":"inner","i":18,"sd":0.006542,"sa":3.375},
{"panel":"AQU","line":"U2","contour":"inner","i":19,"sd":0.006821,"sa":3.084},
{"panel":"AQU","line":"U2","contour":"inner","i":20,"sd":0.006958,"sa":2.791},
{"panel":"AQU","line":"U2","contour":"inner","i":21,"sd":0.007167,"sa":2.5},
{"panel":"AQU","line":"U2","contour":"inner","i":22,"sd":0.007238,"sa":2.166},
{"panel":"AQU","line":"U2","contour":"inner","i":23,"sd":0.007238,"sa":1.875},
{"panel":"AQU","line":"U2","contour":"inner","i":24,"sd":0.007096,"sa":1.541},
{"panel":"AQU","line":"U2","contour":"inner","i":25,"sd":0.006958,"sa":1.25},
{"panel":"AQU","line":"U2","contour":"inner","i":26,"sd":0.006679,"sa":1.0},
{"panel":"AQU","line":"U2","contour":"inner","i":27,"sd":0.006263,"sa":0.791},
{"panel":"AQU","line":"U2","contour":"inner","i":28,"sd":0.005846,"sa":0.666},
{"panel":"AQU","line":"U2","contour":"inner","i":29,"sd":0.005542,"sa":0.541},
{"panel":"AQU","line":"U2","contour":"inner","i":30,"sd":0.0055,"sa":0.488},
{"panel":"AQU","line":"U2","contour":"inner","i":31,"sd":0.005988,"sa":0.521},
{"panel":"AQU","line":"U2","contour":"inner","i":32,"sd":0.006679,"sa":0.521},
{"panel":"AQU","line":"U2","contour":"inner","i":33,"sd":0.006958,"sa":0.459},
{"panel":"AQU","line":"U2","contour":"inner","i":34,"sd":0.006679,"sa":0.396},
{"panel":"AQU","line":"U2","contour":"inner","i":35,"sd":0.006125,"sa":0.334},
{"panel":"AQU","line":"U2","contour":"inner","i":36,"sd":0.005154,"sa":0.25},
{"panel":"AQU","line":"U2","contour":"inner","i":37,"sd":0.004804,"sa":0.209},
{"panel":"AQU","line":"U2","contour":"inner","i":38,"sd":0.004529,"sa":0.125},
{"panel":"AQU","line":"U2","contour":"inner","i":39,"sd":0.004321,"sa":0.021},
{"panel":"AQU","line":"U2","contour":"inner","i":40,"sd":0.004292,"sa":0},
{"panel":"AQU","line":"U3","contour":"inner","i":1,"sd":0.000042,"sa":2.313},
{"panel":"AQU","line":"U3","contour":"inner","i":2,"sd":0.0001375,"sa":1.3125},
{"panel":"AQU","line":"U3","contour":"inner","i":3,"sd":0.000279,"sa":1.625},
{"panel":"AQU","line":"U3","contour":"inner","i":4,"sd":0.000446,"sa":2.0},
{"panel":"AQU","line":"U3","contour":"inner","i":5,"sd":0.0004875,"sa":1.521},
{"panel":"AQU","line":"U3","contour":"inner","i":6,"sd":0.000625,"sa":1.666},
{"panel":"AQU","line":"U3","contour":"inner","i":7,"sd":0.000904,"sa":1.791},
{"panel":"AQU","line":"U3","contour":"inner","i":8,"sd":0.00125,"sa":1.834},
{"panel":"AQU","line":"U3","contour":"inner","i":9,"sd":0.0017375,"sa":1.875},
{"panel":"AQU","line":"U3","contour":"inner","i":10,"sd":0.002154,"sa":1.979},
{"panel":"AQU","line":"U3","contour":"inner","i":11,"sd":0.0025,"sa":2.084},
{"panel":"AQU","line":"U3","contour":"inner","i":12,"sd":0.002929,"sa":2.166},
{"panel":"AQU","line":"U3","contour":"inner","i":13,"sd":0.003346,"sa":2.166},
{"panel":"AQU","line":"U3","contour":"inner","i":14,"sd":0.003904,"sa":2.104},
{"panel":"AQU","line":"U3","contour":"inner","i":15,"sd":0.00425,"sa":1.979},
{"panel":"AQU","line":"U3","contour":"inner","i":16,"sd":0.004529,"sa":1.791},
{"panel":"AQU","line":"U3","contour":"inner","i":17,"sd":0.004738,"sa":1.5},
{"panel":"AQU","line":"U3","contour":"inner","i":18,"sd":0.004779,"sa":1.166},
{"panel":"AQU","line":"U3","contour":"inner","i":19,"sd":0.004667,"sa":0.916},
{"panel":"AQU","line":"U3","contour":"inner","i":20,"sd":0.004458,"sa":0.709},
{"panel":"AQU","line":"U3","contour":"inner","i":21,"sd":0.004179,"sa":0.584},
{"panel":"AQU","line":"U3","contour":"inner","i":22,"sd":0.003833,"sa":0.459},
{"panel":"AQU","line":"U3","contour":"inner","i":23,"sd":0.003696,"sa":0.375},
{"panel":"AQU","line":"U3","contour":"inner","i":24,"sd":0.003904,"sa":0.341},
{"panel":"AQU","line":"U3","contour":"inner","i":25,"sd":0.004179,"sa":0.334},
{"panel":"AQU","line":"U3","contour":"inner","i":26,"sd":0.004321,"sa":0.25},
{"panel":"AQU","line":"U3","contour":"inner","i":27,"sd":0.004042,"sa":0.1875},
{"panel":"AQU","line":"U3","contour":"inner","i":28,"sd":0.0034875,"sa":0.159},
{"panel":"AQU","line":"U3","contour":"inner","i":29,"sd":0.0031375,"sa":0.125},
{"panel":"AQU","line":"U3","contour":"inner","i":30,"sd":0.002721,"sa":0.0625},
{"panel":"AQU","line":"U3","contour":"inner","i":31,"sd":0.0025125,"sa":0.009},
{"panel":"AQU","line":"U3","contour":"inner","i":32,"sd":0.0025,"sa":0},
{"panel":"AQU","line":"U4","contour":"inner","i":1,"sd":0.0000125,"sa":1.084},
{"panel":"AQU","line":"U4","contour":"inner","i":2,"sd":0.000083,"sa":0.709},
{"panel":"AQU","line":"U4","contour":"inner","i":3,"sd":0.000221,"sa":0.959},
{"panel":"AQU","line":"U4","contour":"inner","i":4,"sd":0.0003625,"sa":0.771},
{"panel":"AQU","line":"U4","contour":"inner","i":5,"sd":0.000571,"sa":0.791},
{"panel":"AQU","line":"U4","contour":"inner","i":6,"sd":0.000846,"sa":0.854},
{"panel":"AQU","line":"U4","contour":"inner","i":7,"sd":0.001196,"sa":0.925},
{"panel":"AQU","line":"U4","contour":"inner","i":8,"sd":0.001542,"sa":0.9375},
{"panel":"AQU","line":"U4","contour":"inner","i":9,"sd":0.00175,"sa":0.875},
{"panel":"AQU","line":"U4","contour":"inner","i":10,"sd":0.001958,"sa":0.75},
{"panel":"AQU","line":"U4","contour":"inner","i":11,"sd":0.002096,"sa":0.584},
{"panel":"AQU","line":"U4","contour":"inner","i":12,"sd":0.002125,"sa":0.416},
{"panel":"AQU","line":"U4","contour":"inner","i":13,"sd":0.002029,"sa":0.291},
{"panel":"AQU","line":"U4","contour":"inner","i":14,"sd":0.001821,"sa":0.209},
{"panel":"AQU","line":"U4","contour":"inner","i":15,"sd":0.002029,"sa":0.159},
{"panel":"AQU","line":"U4","contour":"inner","i":16,"sd":0.00175,"sa":0.125},
{"panel":"AQU","line":"U4","contour":"inner","i":17,"sd":0.001333,"sa":0.041},
{"panel":"AQU","line":"U4","contour":"inner","i":18,"sd":0.001196,"sa":0}
]
},
"spacing": 162,
"bounds": "flush",
"resolve": {"scale": {"color": "independent", "strokeWidth": "independent"}},
"hconcat": [
{
  "title": {"text": "AQA", "anchor": "middle", "dx": -25, "offset": 5, "font": "Liberation Serif"},
  "width": 480, "height": 480,
  "layer": [
    {
      "data": {"name": "contours"},
      "transform": [{"filter": "datum.panel === 'AQA'"}],
      "mark": {"type": "line", "color": "black", "clip": true, "strokeJoin": "round"},
      "encoding": {
        "x": {"field": "sd", "type": "quantitative", "scale": {"domain": [0, 0.02], "nice": false, "zero": false}, "axis": {"orient": "bottom", "values": [0, 0.005, 0.01, 0.015, 0.02], "format": "~g", "title": "Sd [m]", "labelFont": "Liberation Serif", "titleFont": "Liberation Serif", "grid": true, "tickSize": 19, "labelPadding": 14, "titlePadding": 1}},
        "y": {"field": "sa", "type": "quantitative", "scale": {"domain": [0, 6], "nice": false}, "axis": {"orient": "left", "values": [0, 1, 2, 3, 4, 5, 6], "format": "d", "title": "Sa [m/s²]", "labelFont": "Liberation Serif", "titleFont": "Liberation Serif", "grid": true, "tickSize": 19, "labelPadding": 10, "titlePadding": 12}},
        "detail": {"field": "line"},
        "order": {"field": "i"},
        "strokeWidth": {"field": "contour", "type": "ordinal", "scale": {"domain": ["outer", "inner"], "range": [2.5, 1]}, "legend": null}
      }
    },
    {
      "data": {"name": "capacity"},
      "mark": {"type": "line", "strokeWidth": 2},
      "encoding": {
        "x": {"field": "sd", "type": "quantitative", "axis": {"orient": "bottom", "values": [0.0025, 0.0075, 0.0125, 0.0175], "labels": false, "grid": false, "domain": false, "tickSize": 10, "title": null}},
        "y": {"field": "sa", "type": "quantitative", "axis": {"orient": "left", "values": [0.5, 1.5, 2.5, 3.5, 4.5, 5.5], "labels": false, "grid": false, "domain": false, "tickSize": 10, "title": null}},
        "order": {"field": "i"},
        "color": {"field": "series", "type": "nominal", "scale": {"domain": ["Capacity curve"], "range": ["#ff0000"]}, "legend": {"orient": "none", "legendX": 258, "legendY": -8, "padding": 0, "title": null, "symbolType": "stroke", "symbolSize": 3249, "symbolStrokeWidth": 2, "labelOffset": 20, "labelFont": "Liberation Serif", "labelFontSize": 23}}
      }
    }
  ],
  "resolve": {"axis": {"x": "independent", "y": "independent"}}
},
{
  "title": {"text": "AQU", "anchor": "middle", "dx": -22, "offset": 5, "font": "Liberation Serif"},
  "width": 480, "height": 480,
  "layer": [
    {
      "data": {"name": "contours"},
      "transform": [{"filter": "datum.panel === 'AQU'"}],
      "mark": {"type": "line", "color": "black", "clip": true, "strokeJoin": "round"},
      "encoding": {
        "x": {"field": "sd", "type": "quantitative", "scale": {"domain": [0, 0.02], "nice": false, "zero": false}, "axis": {"orient": "bottom", "values": [0, 0.005, 0.01, 0.015, 0.02], "format": "~g", "title": "Sd [m]", "labelFont": "Liberation Serif", "titleFont": "Liberation Serif", "grid": true, "tickSize": 19, "labelPadding": 14, "titlePadding": 1}},
        "y": {"field": "sa", "type": "quantitative", "scale": {"domain": [0, 6], "nice": false}, "axis": {"orient": "left", "values": [0, 1, 2, 3, 4, 5, 6], "format": "d", "title": "Sa [m/s²]", "labelFont": "Liberation Serif", "titleFont": "Liberation Serif", "grid": true, "tickSize": 19, "labelPadding": 10, "titlePadding": 12}},
        "detail": {"field": "line"},
        "order": {"field": "i"},
        "strokeWidth": {"field": "contour", "type": "ordinal", "scale": {"domain": ["outer", "inner"], "range": [2.5, 1]}, "legend": null}
      }
    },
    {
      "data": {"name": "capacity"},
      "mark": {"type": "line", "strokeWidth": 2},
      "encoding": {
        "x": {"field": "sd", "type": "quantitative", "axis": {"orient": "bottom", "values": [0.0025, 0.0075, 0.0125, 0.0175], "labels": false, "grid": false, "domain": false, "tickSize": 10, "title": null}},
        "y": {"field": "sa", "type": "quantitative", "axis": {"orient": "left", "values": [0.5, 1.5, 2.5, 3.5, 4.5, 5.5], "labels": false, "grid": false, "domain": false, "tickSize": 10, "title": null}},
        "order": {"field": "i"},
        "color": {"field": "series", "type": "nominal", "scale": {"domain": ["Capacity curve"], "range": ["#ff0000"]}, "legend": {"orient": "none", "legendX": 258, "legendY": -8, "padding": 0, "title": null, "symbolType": "stroke", "symbolSize": 3249, "symbolStrokeWidth": 2, "labelOffset": 20, "labelFont": "Liberation Serif", "labelFontSize": 23}}
      }
    }
  ],
  "resolve": {"axis": {"x": "independent", "y": "independent"}}
}
]
}
